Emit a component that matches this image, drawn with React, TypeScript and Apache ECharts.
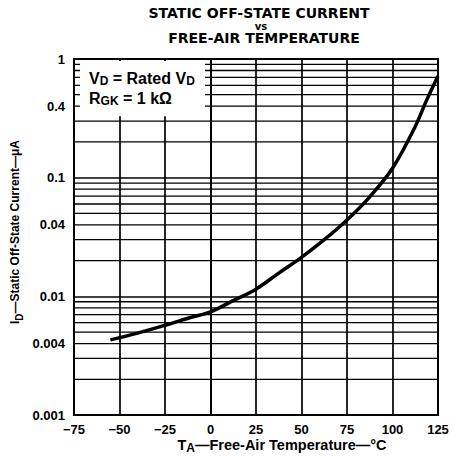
import React, { useEffect, useRef } from "react";
import * as echarts from "echarts";

const temperature = [-55, -40, -25, -10, 0, 12.5, 25, 37.5, 50, 62.5, 75, 87.5, 100, 112.5, 118.75, 125];
const current = [0.0043, 0.0049, 0.0057, 0.0067, 0.0074, 0.0092, 0.0115, 0.0157, 0.0213, 0.030, 0.044, 0.069, 0.12, 0.27, 0.45, 0.72];
const minorLines = [
  0.002, 0.003, 0.004, 0.005, 0.006, 0.007, 0.008, 0.009,
  0.02, 0.03, 0.04, 0.05, 0.06, 0.07, 0.08, 0.09,
  0.2, 0.3, 0.4, 0.5, 0.6, 0.7, 0.8, 0.9,
];
const extraTickLabels = [0.004, 0.04, 0.4];
const titleLines = ["STATIC OFF-STATE CURRENT", "vs", "FREE-AIR TEMPERATURE"];
const xMin = -75, xMax = 125, xStep = 25;
const yMin = 0.001, yMax = 1;

const FONT = "'Liberation Sans', Arial, Helvetica, sans-serif";
const WIDE = "'DejaVu Sans', 'Liberation Sans', sans-serif";
const TICK_SIZE = 13;

function fmt(v: number) {
  return String(Number(Number(v).toPrecision(3)));
}

export default function App() {
  const ref = useRef<HTMLDivElement>(null);
  useEffect(() => {
    if (!ref.current) return;
    const chart = echarts.init(ref.current, undefined, { renderer: "svg" });
    const black = "#000";
    const gridSeries = minorLines.map((v) => ({
      type: "line",
      data: [[xMin, v], [xMax, v]],
      showSymbol: false,
      silent: true,
      clip: false,
      z: 2,
      lineStyle: { color: black, width: 1.3 },
    }));
    chart.setOption({
      animation: false,
      backgroundColor: "#fff",
      grid: { left: 74, right: 15, top: 59, bottom: 41, show: true, borderColor: black, borderWidth: 2 },
      xAxis: {
        type: "value",
        min: xMin,
        max: xMax,
        interval: xStep,
        axisLine: { show: true, lineStyle: { color: black, width: 2 } },
        axisTick: { show: false },
        splitLine: { show: true, lineStyle: { color: black, width: 1.7 } },
        axisLabel: {
          color: black,
          fontFamily: FONT,
          fontWeight: "bold",
          fontSize: TICK_SIZE,
          margin: 8,
          formatter: (v: number) => (v < 0 ? "\u2212" + Math.abs(v) : String(v)),
        },
      },
      yAxis: {
        type: "log",
        logBase: 10,
        min: yMin,
        max: yMax,
        axisLine: { show: true, lineStyle: { color: black, width: 2 } },
        axisTick: { show: false },
        splitLine: { show: true, lineStyle: { color: black, width: 1.7 } },
        axisLabel: {
          color: black,
          fontFamily: FONT,
          fontWeight: "bold",
          fontSize: TICK_SIZE,
          margin: 9,
          formatter: (v: number) => fmt(v),
        },
      },
      series: [
        ...gridSeries,
        {
          type: "line",
          data: temperature.map((t, i) => [t, current[i]]),
          smooth: 0.35,
          showSymbol: false,
          clip: false,
          lineStyle: { color: black, width: 3.5 },
          z: 5,
        },
      ],
    });

    const pTL = chart.convertToPixel({ gridIndex: 0 }, [xMin, yMax]) as number[];
    const pBox = chart.convertToPixel({ gridIndex: 0 }, [-3, 0.33]) as number[];
    const sub = { fontSize: 12, fontFamily: FONT, fontWeight: "bold", verticalAlign: "bottom", lineHeight: 10, padding: [10, 0, 0, 0] };
    const main = { fontSize: 16, fontFamily: FONT, fontWeight: "bold", lineHeight: 18 };
    const tickTexts = extraTickLabels.map((v) => {
      const p = chart.convertToPixel({ gridIndex: 0 }, [xMin, v]) as number[];
      return {
        type: "text",
        x: p[0] - 9,
        y: p[1],
        style: { text: fmt(v), font: `bold ${TICK_SIZE}px ${FONT}`, align: "right", verticalAlign: "middle", fill: black },
      };
    });
    chart.setOption({
      graphic: [
        {
          type: "rect",
          z: 10,
          shape: { x: pTL[0] + 6, y: pTL[1] + 2, width: pBox[0] - pTL[0] - 6, height: pBox[1] - pTL[1] - 2 },
          style: { fill: "#fff" },
        },
        {
          type: "text",
          z: 11,
          x: pTL[0] + 15,
          y: pTL[1] + 19,
          style: {
            text: "{m|V}{s|D}{m| = Rated V}{s|D}",
            rich: { m: main, s: sub },
            verticalAlign: "middle",
            fill: black,
          },
        },
        {
          type: "text",
          z: 11,
          x: pTL[0] + 15,
          y: pTL[1] + 39,
          style: {
            text: "{m|R}{s|GK}{m| = 1 k\u03A9}",
            rich: { m: main, s: sub },
            verticalAlign: "middle",
            fill: black,
          },
        },
        ...tickTexts,
        {
          type: "text",
          x: 259,
          y: 13,
          style: { text: titleLines[0], font: `bold 14px ${WIDE}`, align: "center", verticalAlign: "middle", fill: black },
        },
        {
          type: "text",
          x: 261,
          y: 26,
          style: { text: titleLines[1], font: `bold 10px ${WIDE}`, align: "center", verticalAlign: "middle", fill: black },
        },
        {
          type: "text",
          x: 264,
          y: 38,
          style: { text: titleLines[2], font: `bold 14px ${WIDE}`, align: "center", verticalAlign: "middle", fill: black },
        },
        {
          type: "text",
          x: 282,
          y: 445,
          style: {
            text: "{m|T}{s|A}{m|\u2014Free-Air Temperature\u2014\u00B0C}",
            rich: { m: { ...main, fontSize: 14.5 }, s: sub },
            align: "center",
            verticalAlign: "middle",
            fill: black,
          },
        },
        {
          type: "text",
          x: 15,
          y: 232,
          rotation: Math.PI / 2,
          style: {
            text: "{m|I}{s|D}{m|\u2014Static Off-State Current\u2014\u03BCA}",
            rich: { m: { ...main, fontSize: 12 }, s: { ...sub, fontSize: 10, padding: [7, 0, 0, 0] } },
            align: "center",
            verticalAlign: "middle",
            fill: black,
          },
        },
      ],
    });
    return () => chart.dispose();
  }, []);
  return <div ref={ref} style={{ width: 453, height: 456, position: "absolute", left: 0, top: 0 }} />;
}
